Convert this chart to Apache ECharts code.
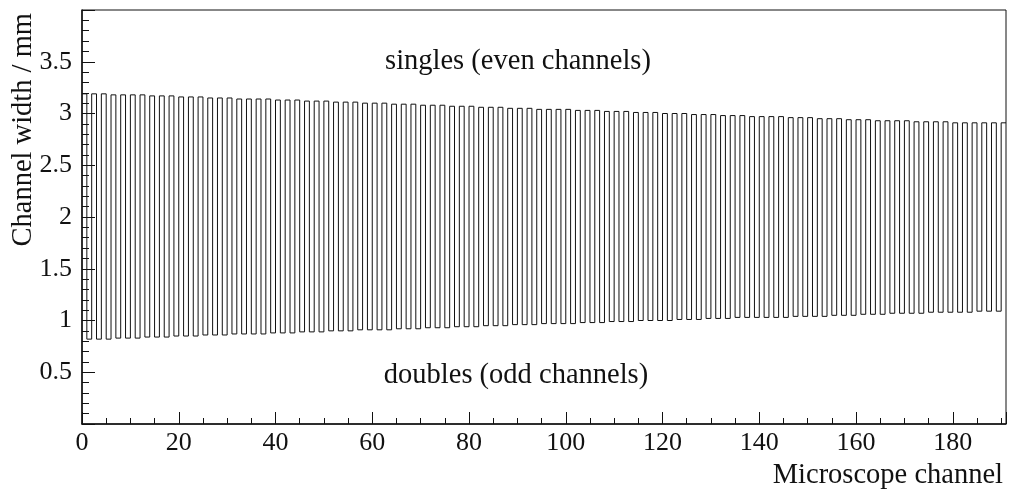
<!DOCTYPE html>
<html>
<head>
<meta charset="utf-8">
<script src="https://cdn.jsdelivr.net/npm/echarts@6/dist/echarts.min.js"></script>
<style>
  html, body { margin: 0; padding: 0; background: #fff; }
  #chart { width: 1010px; height: 490px; }
</style>
</head>
<body>
<div id="chart"></div>
<script>
// Measured channel widths (mm) of the microscope channels.
// Even channels (0, 2, ..., 190): single-fibre channels.
const evenChannelWidths = [
  3.19, 3.19, 3.19, 3.18, 3.18, 3.18, 3.18, 3.17, 3.17, 3.17,
  3.16, 3.16, 3.16, 3.15, 3.15, 3.15, 3.14, 3.14, 3.14, 3.14,
  3.13, 3.13, 3.13, 3.12, 3.12, 3.12, 3.11, 3.11, 3.11, 3.10,
  3.10, 3.10, 3.09, 3.09, 3.09, 3.08, 3.08, 3.08, 3.07, 3.07,
  3.07, 3.06, 3.06, 3.06, 3.05, 3.05, 3.05, 3.04, 3.04, 3.04,
  3.04, 3.03, 3.03, 3.03, 3.02, 3.02, 3.02, 3.01, 3.01, 3.01,
  3.00, 3.00, 3.00, 2.99, 2.99, 2.99, 2.98, 2.98, 2.98, 2.97,
  2.97, 2.97, 2.97, 2.96, 2.96, 2.96, 2.95, 2.95, 2.95, 2.94,
  2.94, 2.94, 2.93, 2.93, 2.93, 2.93, 2.92, 2.92, 2.92, 2.92,
  2.91, 2.91, 2.91, 2.91, 2.91, 2.91
];
// Odd channels (1, 3, ..., 189): double-fibre channels.
const oddChannelWidths = [
  0.82, 0.82, 0.82, 0.83, 0.83, 0.83, 0.84, 0.84, 0.84, 0.85,
  0.85, 0.85, 0.86, 0.86, 0.86, 0.87, 0.87, 0.87, 0.87, 0.88,
  0.88, 0.88, 0.89, 0.89, 0.89, 0.90, 0.90, 0.90, 0.91, 0.91,
  0.91, 0.91, 0.92, 0.92, 0.92, 0.93, 0.93, 0.93, 0.94, 0.94,
  0.94, 0.95, 0.95, 0.95, 0.96, 0.96, 0.96, 0.97, 0.97, 0.97,
  0.97, 0.98, 0.98, 0.98, 0.99, 0.99, 0.99, 1.00, 1.00, 1.00,
  1.00, 1.01, 1.01, 1.01, 1.02, 1.02, 1.02, 1.03, 1.03, 1.03,
  1.03, 1.03, 1.03, 1.04, 1.04, 1.04, 1.04, 1.05, 1.05, 1.05,
  1.06, 1.06, 1.06, 1.07, 1.07, 1.07, 1.07, 1.08, 1.08, 1.08,
  1.08, 1.08, 1.09, 1.09, 1.09
];

const xRange = [0, 191];
const yRange = [0, 4];
const xTickStep = 20;
const yTickStep = 0.5;

const annotationTop = 'singles (even channels)';
const annotationBottom = 'doubles (odd channels)';
const xTitle = 'Microscope channel';
const yTitle = 'Channel width / mm';

// Interleave into one histogram: bin [c, c+1] holds channel c.
const channelCount = evenChannelWidths.length + oddChannelWidths.length;
const histPoints = [];
for (let c = 0; c < channelCount; c++) {
  const w = (c % 2 === 0) ? evenChannelWidths[c / 2] : oddChannelWidths[(c - 1) / 2];
  histPoints.push([c, w]);
}
// closing edge of the last bin
histPoints.push([channelCount, histPoints[channelCount - 1][1]]);

const FONT = 'Liberation Serif';
const INK = '#111';
const TITLE_FONT = '28.5px "Liberation Serif"';

const chart = echarts.init(document.getElementById('chart'), null, { renderer: 'canvas' });

chart.setOption({
  animation: false,
  backgroundColor: '#fff',
  grid: {
    left: 82, right: 4, top: 10, bottom: 66,
    show: true, borderColor: INK, borderWidth: 1, backgroundColor: 'transparent'
  },
  xAxis: {
    type: 'value',
    min: xRange[0], max: xRange[1], interval: xTickStep,
    axisLine: { show: true, onZero: false, lineStyle: { color: INK, width: 1.5 } },
    axisTick: { show: true, inside: true, length: 12, lineStyle: { color: INK, width: 1 } },
    minorTick: { show: true, splitNumber: 4, length: 6, lineStyle: { color: INK, width: 1 } },
    splitLine: { show: false },
    minorSplitLine: { show: false },
    axisLabel: {
      show: true, margin: 6, color: INK, fontFamily: FONT, fontSize: 26,
      showMinLabel: true, showMaxLabel: false,
      formatter: v => (v % xTickStep === 0 ? String(v) : '')
    }
  },
  yAxis: {
    type: 'value',
    min: yRange[0], max: yRange[1], interval: yTickStep,
    axisLine: { show: true, onZero: false, lineStyle: { color: INK, width: 1.5 } },
    axisTick: { show: true, inside: true, length: 13, lineStyle: { color: INK, width: 1 } },
    minorTick: { show: true, splitNumber: 5, length: 7, lineStyle: { color: INK, width: 1 } },
    splitLine: { show: false },
    minorSplitLine: { show: false },
    axisLabel: {
      show: true, margin: 10, color: INK, fontFamily: FONT, fontSize: 26,
      showMinLabel: false, showMaxLabel: false,
      formatter: v => String(v)
    }
  },
  series: [{
    type: 'line',
    step: 'end',
    data: histPoints,
    symbol: 'none',
    lineStyle: { color: '#111', width: 1 },
    clip: true,
    silent: true
  }],
  graphic: [
    {
      type: 'text', x: 518, y: 62,
      style: { text: annotationTop, fill: INK, font: TITLE_FONT, textAlign: 'center', textVerticalAlign: 'middle' }
    },
    {
      type: 'text', x: 516, y: 376,
      style: { text: annotationBottom, fill: INK, font: TITLE_FONT, textAlign: 'center', textVerticalAlign: 'middle' }
    },
    {
      type: 'text', x: 1003, y: 476,
      style: { text: xTitle, fill: INK, font: TITLE_FONT, textAlign: 'right', textVerticalAlign: 'middle' }
    },
    {
      type: 'text', x: 24, y: 13, rotation: Math.PI / 2,
      style: { text: yTitle, fill: INK, font: TITLE_FONT, textAlign: 'right', textVerticalAlign: 'middle' }
    }
  ]
});
</script>
</body>
</html>
